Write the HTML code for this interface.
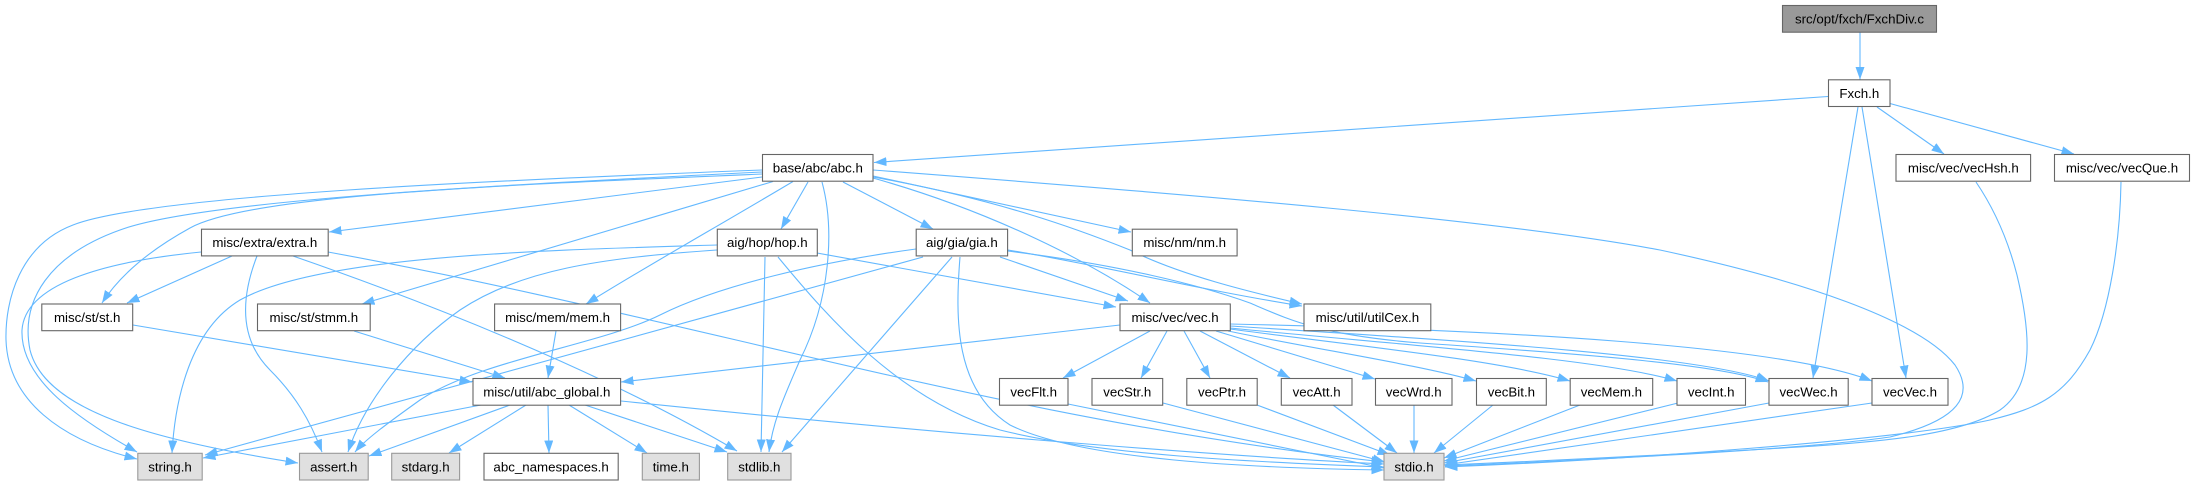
<!DOCTYPE html>
<html>
<head>
<meta charset="utf-8">
<style>
html,body{margin:0;padding:0;background:#fff;}
svg{display:block;}
text{font-family:"Liberation Sans",Arial,Helvetica,sans-serif;font-size:13.3px;fill:#000;text-anchor:middle;}
.n{fill:#fff;stroke:#666;stroke-width:1.1;}
.s{fill:#e0e0e0;stroke:#999;stroke-width:1.1;}
.r{fill:#999;stroke:#666;stroke-width:1.1;}
.e{fill:none;stroke:#63b8ff;stroke-width:1.1;marker-end:url(#ah);}
</style>
</head>
<body>
<svg width="2195" height="485" viewBox="0 0 2195 485" xmlns="http://www.w3.org/2000/svg">
<defs>
<marker id="ah" markerUnits="userSpaceOnUse" markerWidth="14" markerHeight="10" refX="12.5" refY="4.5" orient="auto">
<path d="M0,0 L12.5,4.5 L0,9 z" fill="#63b8ff"/>
</marker>
</defs>

<!-- ===== EDGES ===== -->
<!-- FxchDiv -> Fxch -->
<path class="e" d="M1860,32.5 L1860,79.5"/>
<!-- Fxch edges -->
<path class="e" d="M1828,96.5 L874,162.5"/>
<path class="e" d="M1877,107 L1944,154"/>
<path class="e" d="M1890,103.5 L2074,154"/>
<path class="e" d="M1858,107 L1813,378"/>
<path class="e" d="M1862,107 L1906,378"/>
<!-- vecHsh / vecQue -> stdio -->
<path class="e" d="M1976,182 C1995,210 2008,240 2017,275 C2030,330 2036,385 2000,410 C1960,435 1880,442 1800,447 C1650,456 1520,462 1445,465"/>
<path class="e" d="M2121,182 C2120,240 2110,310 2090,350 C2065,395 2040,408 1990,420 C1900,440 1620,460 1445,467"/>

<!-- abc.h edges -->
<path class="e" d="M873,170 C1200,195 1500,220 1660,250 C1800,280 1920,320 1955,365 C1975,395 1960,420 1890,437 C1800,450 1550,462 1445,466"/>
<path class="e" d="M762,170 C500,180 150,195 73,225 C20,245 5,300 6,340 C8,400 60,440 137,459"/>
<path class="e" d="M762,172 C500,185 200,200 120,230 C50,255 20,300 30,350 C45,410 150,440 298,463"/>
<path class="e" d="M762,174 C500,185 250,195 190,228 C150,250 120,275 102,303"/>
<path class="e" d="M762,177 L329,232"/>
<path class="e" d="M773,181.5 L362,304"/>
<path class="e" d="M793,181.5 C720,225 640,270 586,304"/>
<path class="e" d="M808,182 L781,229"/>
<path class="e" d="M822,182 C835,230 830,300 800,360 C785,395 773,420 769,452"/>
<path class="e" d="M843,182 L933,229"/>
<path class="e" d="M873,176 L1131,232"/>
<path class="e" d="M873,178 C980,208 1080,255 1150,303"/>
<path class="e" d="M873,177 C1000,200 1080,230 1130,250 C1180,275 1250,292 1302,304"/>

<!-- extra.h edges -->
<path class="e" d="M232,256 L127,303"/>
<path class="e" d="M201,252 C100,262 25,285 22,330 C20,380 80,420 137,452"/>
<path class="e" d="M257,256 C240,300 240,340 270,370 C295,395 310,420 322,452"/>
<path class="e" d="M293,256 C420,300 600,370 737,451"/>
<path class="e" d="M328,252 C700,320 1000,420 1384,462"/>

<!-- hop.h edges -->
<path class="e" d="M717,245 C550,250 320,255 240,300 C190,330 175,400 172,453"/>
<path class="e" d="M717,250 C600,258 520,270 460,310 C410,345 365,400 348,452"/>
<path class="e" d="M765,257 L761,452"/>
<path class="e" d="M778,257 C830,320 900,400 1000,430 C1100,455 1250,462 1384,467"/>
<path class="e" d="M817,253 L1116,307"/>

<!-- gia.h edges -->
<path class="e" d="M923,257 L205,455"/>
<path class="e" d="M916,249 C820,262 720,285 660,315 C600,345 480,360 420,400 C385,425 365,440 355,452"/>
<path class="e" d="M952,257 L782,452"/>
<path class="e" d="M960,257 C955,320 955,390 1010,425 C1080,460 1250,468 1384,470"/>
<path class="e" d="M1000,257 L1128,301"/>
<path class="e" d="M1008,250 C1100,265 1200,290 1302,306"/>
<path class="e" d="M1008,251 C1120,265 1200,285 1250,303 C1290,320 1320,335 1420,343 C1600,355 1720,365 1768,382"/>

<!-- st / stmm / mem -> abc_global -->
<path class="e" d="M133,325 L472,382"/>
<path class="e" d="M354,331 L505,378"/>
<path class="e" d="M556,331 L548,378"/>

<!-- abc_global edges -->
<path class="e" d="M481,405 L203,458"/>
<path class="e" d="M510,405 L369,456"/>
<path class="e" d="M526,405 L449,453"/>
<path class="e" d="M548,405 L549,453"/>
<path class="e" d="M569,405 L647,453"/>
<path class="e" d="M585,405 L727,452"/>
<path class="e" d="M621,401 C900,430 1200,455 1384,464"/>

<!-- vec.h edges -->
<path class="e" d="M1120,325 L621,382"/>
<path class="e" d="M1150,331 L1063,378"/>
<path class="e" d="M1167,331 L1141,378"/>
<path class="e" d="M1184,331 L1210,378"/>
<path class="e" d="M1200,331 L1290,378"/>
<path class="e" d="M1216,331 L1375,379"/>
<path class="e" d="M1228,331 C1320,350 1420,365 1476,381"/>
<path class="e" d="M1230,329 C1350,345 1500,360 1570,381"/>
<path class="e" d="M1230,328 C1400,345 1600,358 1677,381"/>
<path class="e" d="M1230,326 C1450,340 1700,355 1769,381"/>
<path class="e" d="M1230,324 C1500,330 1780,345 1872,381"/>

<!-- vecX -> stdio -->
<path class="e" d="M1068,404 L1384,468"/>
<path class="e" d="M1163,403 L1385,462"/>
<path class="e" d="M1257,405 L1390,455"/>
<path class="e" d="M1333,405 L1397,453"/>
<path class="e" d="M1414,405 L1414,453"/>
<path class="e" d="M1493,405 L1434,453"/>
<path class="e" d="M1580,405 L1444,458"/>
<path class="e" d="M1678,403 L1444,461"/>
<path class="e" d="M1769,403 L1444,463"/>
<path class="e" d="M1872,403 L1444,465"/>

<!-- ===== NODES ===== -->
<!-- row 1 -->
<rect class="r" x="1782.5" y="5.5" width="154" height="26.7"/>
<text x="1859.5" y="23.5">src/opt/fxch/FxchDiv.c</text>
<!-- row 2 -->
<rect class="n" x="1828.5" y="79.8" width="61.5" height="26.7"/>
<text x="1859.3" y="97.8">Fxch.h</text>
<!-- row 3 -->
<rect class="n" x="762.5" y="154.5" width="110.5" height="26.7"/>
<text x="817.8" y="172.5">base/abc/abc.h</text>
<rect class="n" x="1896" y="154.5" width="134.6" height="26.7"/>
<text x="1963.3" y="172.5">misc/vec/vecHsh.h</text>
<rect class="n" x="2054.5" y="154.5" width="135" height="26.7"/>
<text x="2122" y="172.5">misc/vec/vecQue.h</text>
<!-- row 4 -->
<rect class="n" x="201.5" y="229.2" width="126.7" height="26.7"/>
<text x="264.8" y="247.2">misc/extra/extra.h</text>
<rect class="n" x="717.3" y="229.2" width="100" height="26.7"/>
<text x="767.3" y="247.2">aig/hop/hop.h</text>
<rect class="n" x="916.2" y="229.2" width="91.4" height="26.7"/>
<text x="961.9" y="247.2">aig/gia/gia.h</text>
<rect class="n" x="1132.3" y="229.2" width="104.8" height="26.7"/>
<text x="1184.7" y="247.2">misc/nm/nm.h</text>
<!-- row 5 -->
<rect class="n" x="41.8" y="304" width="90.9" height="26.7"/>
<text x="87.2" y="322">misc/st/st.h</text>
<rect class="n" x="257.5" y="304" width="112.7" height="26.7"/>
<text x="313.8" y="322">misc/st/stmm.h</text>
<rect class="n" x="494.6" y="304" width="126" height="26.7"/>
<text x="557.6" y="322">misc/mem/mem.h</text>
<rect class="n" x="1120" y="304" width="110.3" height="26.7"/>
<text x="1175.1" y="322">misc/vec/vec.h</text>
<rect class="n" x="1304" y="304" width="126.8" height="26.7"/>
<text x="1367.4" y="322">misc/util/utilCex.h</text>
<!-- row 6 -->
<rect class="n" x="473" y="378.5" width="147.6" height="26.7"/>
<text x="546.8" y="396.5">misc/util/abc_global.h</text>
<rect class="n" x="999.5" y="378.5" width="68.5" height="26.7"/>
<text x="1033.7" y="396.5">vecFlt.h</text>
<rect class="n" x="1092" y="378.5" width="70.7" height="26.7"/>
<text x="1127.3" y="396.5">vecStr.h</text>
<rect class="n" x="1186.8" y="378.5" width="70.4" height="26.7"/>
<text x="1222" y="396.5">vecPtr.h</text>
<rect class="n" x="1281.3" y="378.5" width="70.7" height="26.7"/>
<text x="1316.6" y="396.5">vecAtt.h</text>
<rect class="n" x="1375.5" y="378.5" width="76.5" height="26.7"/>
<text x="1413.7" y="396.5">vecWrd.h</text>
<rect class="n" x="1476.5" y="378.5" width="69.8" height="26.7"/>
<text x="1511.4" y="396.5">vecBit.h</text>
<rect class="n" x="1570.2" y="378.5" width="82.5" height="26.7"/>
<text x="1611.4" y="396.5">vecMem.h</text>
<rect class="n" x="1677" y="378.5" width="68.5" height="26.7"/>
<text x="1711.2" y="396.5">vecInt.h</text>
<rect class="n" x="1769" y="378.5" width="79.2" height="26.7"/>
<text x="1808.6" y="396.5">vecWec.h</text>
<rect class="n" x="1872" y="378.5" width="76" height="26.7"/>
<text x="1910" y="396.5">vecVec.h</text>
<!-- row 7 -->
<rect class="s" x="137.8" y="453.3" width="64.4" height="26.7"/>
<text x="170" y="471.3">string.h</text>
<rect class="s" x="299.5" y="453.3" width="68.7" height="26.7"/>
<text x="333.8" y="471.3">assert.h</text>
<rect class="s" x="391.7" y="453.3" width="67.9" height="26.7"/>
<text x="425.6" y="471.3">stdarg.h</text>
<rect class="n" x="484" y="453.3" width="134.2" height="26.7"/>
<text x="551.1" y="471.3">abc_namespaces.h</text>
<rect class="s" x="642.3" y="453.3" width="57.1" height="26.7"/>
<text x="670.8" y="471.3">time.h</text>
<rect class="s" x="727.7" y="453.3" width="63.3" height="26.7"/>
<text x="759.3" y="471.3">stdlib.h</text>
<rect class="s" x="1384" y="453.3" width="60" height="26.7"/>
<text x="1414" y="471.3">stdio.h</text>
</svg>
</body>
</html>
